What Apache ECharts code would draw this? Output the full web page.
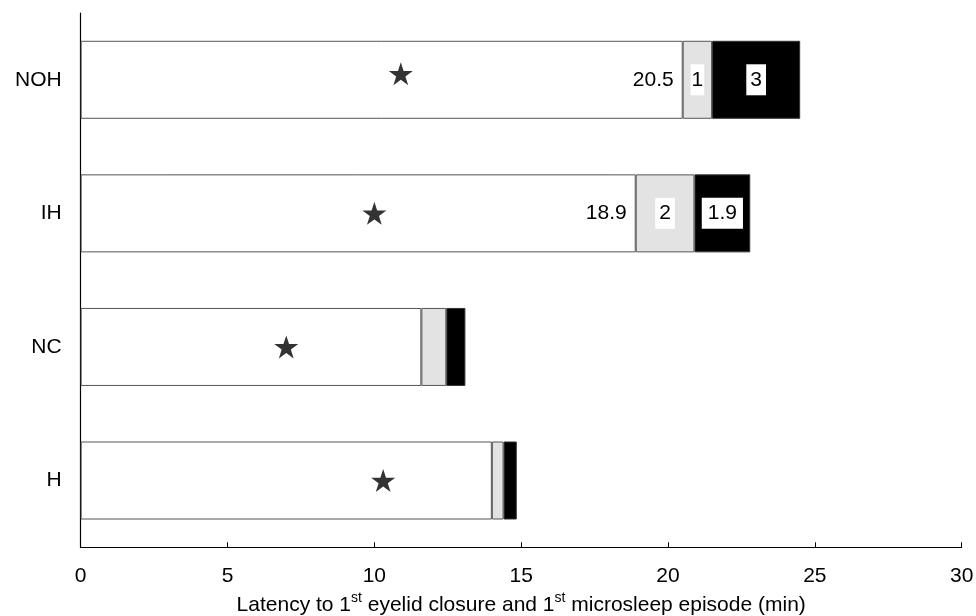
<!DOCTYPE html>
<html>
<head>
<meta charset="utf-8">
<style>
  html, body { margin: 0; padding: 0; background: #fff; }
  #chart { width: 976px; height: 616px; }
</style>
<script src="https://cdn.jsdelivr.net/npm/echarts@6/dist/echarts.min.js"></script>
</head>
<body>
<div id="chart"></div>
<script>
// Groups, top to bottom
const groups = ['NOH', 'IH', 'NC', 'H'];
// Latency to first eyelid closure (min)
const eyelidLatency = [20.5, 18.9, 11.6, 14.0];
// Additional time segments stacked after eyelid closure (min)
const greySegment = [1, 2, 0.85, 0.4];
const blackSegment = [3, 1.9, 0.65, 0.45];
// Star marker positions (min)
const starValues = [10.9, 10.0, 7.0, 10.3];
// Groups whose segments carry value labels
const labelledGroups = ['NOH', 'IH'];
// X axis range
const xMin = 0, xMax = 30, xStep = 5;

const FONT = 'Liberation Sans, Arial, sans-serif';
const FS = 21;
const STAR = 'path://M12,0 L14.8,8.6 L24,8.6 L16.6,14 L19.4,22.8 L12,17.4 L4.6,22.8 L7.4,14 L0,8.6 L9.2,8.6 Z';

function boxLabel(pad) {
  return {
    show: true, position: 'inside', color: '#000', fontSize: FS, fontFamily: FONT,
    backgroundColor: '#fff', padding: pad, lineHeight: 23
  };
}

const whiteData = eyelidLatency.map((v, i) => ({
  value: v,
  label: labelledGroups.includes(groups[i])
    ? { show: true, position: 'insideRight', distance: 9, color: '#000', fontSize: FS, fontFamily: FONT }
    : { show: false }
}));
const greyData = greySegment.map((v, i) => ({
  value: v,
  label: labelledGroups.includes(groups[i]) ? boxLabel(String(v).length > 1 ? [4, 6] : [4, (v === 1 ? 1 : 4)]) : { show: false }
}));
const blackData = blackSegment.map((v, i) => ({
  value: v,
  label: labelledGroups.includes(groups[i]) ? boxLabel(String(v).length > 1 ? [4, 6] : [4, 4]) : { show: false }
}));
const starData = starValues.map((v, i) => ({
  value: [v, groups[i]],
  symbolOffset: groups[i] === 'NOH' ? [0, -6] : [0, 0]
}));

const barCommon = {
  type: 'bar', stack: 'total', barWidth: 78,
  emphasis: { disabled: true }, animation: false
};

const chart = echarts.init(document.getElementById('chart'), null, { renderer: 'canvas' });
chart.setOption({
  animation: false,
  backgroundColor: '#fff',
  grid: { left: 80.7, right: 14.3, top: 13, bottom: 68.7, containLabel: false, outerBoundsMode: 'none' },
  xAxis: {
    type: 'value', min: xMin, max: xMax, interval: xStep,
    axisLine: { show: true, lineStyle: { color: '#000', width: 1.2 } },
    axisTick: { show: true, inside: true, length: 5, lineStyle: { color: '#000' } },
    splitLine: { show: false },
    axisLabel: { color: '#000', fontSize: FS, fontFamily: FONT, margin: 18 },
    name: '{n|Latency to 1}{s|st}{n| eyelid closure and 1}{s|st}{n| microsleep episode (min)}',
    nameLocation: 'middle', nameGap: 44,
    nameTextStyle: {
      rich: {
        n: { fontSize: FS, fontFamily: FONT, color: '#000', verticalAlign: 'bottom', lineHeight: 24 },
        s: { fontSize: 14, fontFamily: FONT, color: '#000', verticalAlign: 'top', lineHeight: 24, padding: [0, 0, 9, 0] }
      }
    }
  },
  yAxis: {
    type: 'category', data: groups, inverse: true,
    axisLine: { show: true, lineStyle: { color: '#000', width: 1.2 } },
    axisTick: { show: false },
    axisLabel: { color: '#000', fontSize: FS, fontFamily: FONT, margin: 19 }
  },
  series: [
    Object.assign({}, barCommon, { name: 'eyelid', data: whiteData, itemStyle: { color: '#fff', borderColor: '#555', borderWidth: 1 } }),
    Object.assign({}, barCommon, { name: 'grey', data: greyData, itemStyle: { color: '#e3e3e3', borderColor: '#555', borderWidth: 1 } }),
    Object.assign({}, barCommon, { name: 'black', data: blackData, itemStyle: { color: '#000', borderColor: '#333', borderWidth: 1 } }),
    {
      type: 'scatter', name: 'star', data: starData, symbol: STAR, symbolSize: [24, 23],
      itemStyle: { color: '#000' }, z: 5, emphasis: { disabled: true }, animation: false
    }
  ]
});
</script>
</body>
</html>
